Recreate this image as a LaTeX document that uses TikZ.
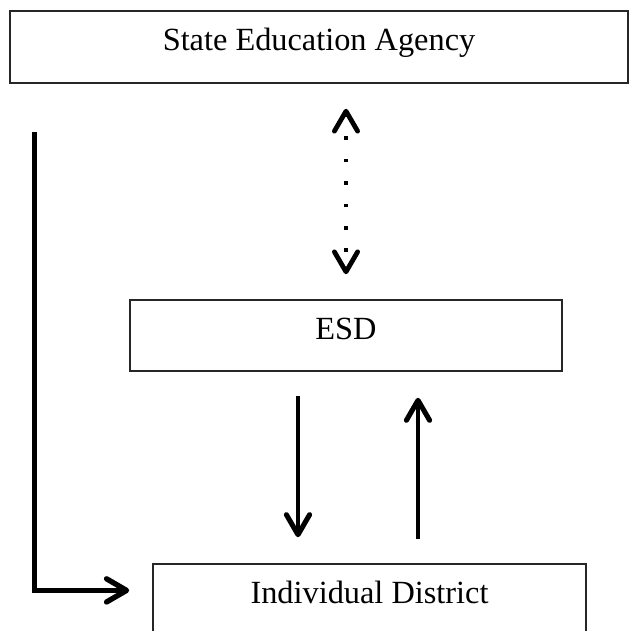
\documentclass[tikz,border=0pt]{standalone}
\usepackage{fontspec}
\setmainfont{Liberation Serif}
\usetikzlibrary{arrows.meta}
\tikzset{
    levelbox/.style={draw=black!85,line width=1.1pt,inner sep=0pt,
        text height=0.6cm,text depth=0.4cm,font=\fontsize{23}{27}\selectfont},
    flowarrow/.style={black,line width=3.4pt,-{Straight Barb[length=0.5cm,width=0.58cm,line width=3.6pt,round]}},
    reportarrow/.style={black,line width=3.8pt,-{Straight Barb[length=0.5cm,width=0.58cm,line width=3.8pt,round]}},
    linkarrow/.style={black,line width=2.8pt,
        {Straight Barb[length=0.5cm,width=0.58cm,line width=3.4pt,round]}-{Straight Barb[length=0.5cm,width=0.58cm,line width=3.4pt,round]},
        dash pattern=on 2.8pt off 13.2pt,dash phase=3.9pt}
}

\begin{document}
\begin{tikzpicture}

    % page frame
    \clip (0,0) rectangle (15.75,15.775);

    % the three levels
    \node[levelbox,minimum width=15.45cm,minimum height=1.8cm] (agency) at (7.975,14.6) {State Education Agency};
    \node[levelbox,minimum width=10.8cm,minimum height=1.775cm] (esd) at (8.65,7.3875) {ESD};
    \node[levelbox,minimum width=10.825cm,minimum height=1.8cm] (district) at (9.2375,0.775) {Individual District};

    % agency <-> ESD
    \draw[linkarrow,shorten <=0.625cm,shorten >=0.625cm] (esd.north) -- (esd.north |- agency.south);

    % ESD <-> district
    \coordinate (downtop) at ([xshift=-1.2cm]esd.south);
    \coordinate (uptop) at ([xshift=1.8cm]esd.south);
    \draw[flowarrow,shorten <=0.6cm,shorten >=0.65cm] (downtop) -- (downtop |- district.north);
    \draw[flowarrow,shorten <=0.6cm,shorten >=0.65cm] (uptop |- district.north) -- (uptop);

    % agency straight to district
    \coordinate (bypass) at (0.8625,12.475);
    \draw[reportarrow,shorten >=0.575cm] (bypass) |- ([yshift=0.24cm]district.west);

\end{tikzpicture}
\end{document}
